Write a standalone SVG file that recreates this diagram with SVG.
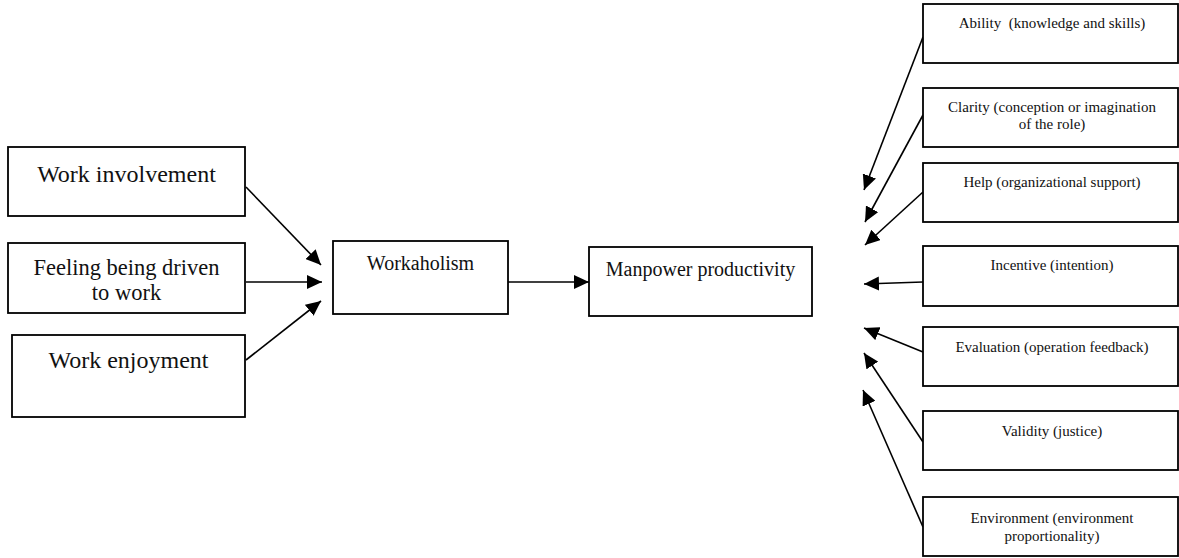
<svg xmlns="http://www.w3.org/2000/svg" width="1179" height="558" viewBox="0 0 1179 558">
<style>
.box{fill:#fff;stroke:#000;stroke-width:1.8}
.t{font-family:"Liberation Serif","Times New Roman",serif;fill:#111;text-anchor:middle}
.big{font-size:24px}
.mid{font-size:22.5px}
.md{font-size:20px}
.sm{font-size:15px}
.c{stroke:#000;stroke-width:1.6;fill:none;marker-end:url(#ah)}
</style>
<defs>
<marker id="ah" markerUnits="userSpaceOnUse" markerWidth="15" markerHeight="14" refX="15" refY="7" orient="auto">
<path d="M0,0 L15,7 L0,14 z" fill="#000"/>
</marker>
</defs>
<rect width="1179" height="558" fill="#fff"/>
<g id="connectors">
<line class="c" x1="246" y1="187" x2="321" y2="265"/>
<line class="c" x1="246" y1="282" x2="322" y2="282"/>
<line class="c" x1="246" y1="360" x2="321" y2="301"/>
<line class="c" x1="508" y1="282" x2="589" y2="282"/>
<line class="c" x1="923" y1="37" x2="864" y2="190"/>
<line class="c" x1="923" y1="115" x2="865" y2="222"/>
<line class="c" x1="923" y1="192" x2="865" y2="245"/>
<line class="c" x1="923" y1="282" x2="864" y2="284"/>
<line class="c" x1="923" y1="352" x2="864" y2="328"/>
<line class="c" x1="923" y1="442" x2="864" y2="353"/>
<line class="c" x1="923" y1="527" x2="863" y2="390"/>
</g>
<g id="work-involvement"><rect class="box" x="8" y="147" width="237" height="69"/><text class="t big" x="126.5" y="182">Work involvement</text></g>
<g id="feeling-driven"><rect class="box" x="8" y="243" width="237" height="70"/><text class="t mid" x="126.5" y="275">Feeling being driven</text><text class="t mid" x="126.5" y="300">to work</text></g>
<g id="work-enjoyment"><rect class="box" x="12" y="335" width="233" height="82"/><text class="t big" x="128.5" y="368">Work enjoyment</text></g>
<g id="workaholism"><rect class="box" x="333" y="241" width="175" height="73"/><text class="t md" x="420.5" y="270">Workaholism</text></g>
<g id="manpower"><rect class="box" x="589" y="247" width="223" height="69"/><text class="t md" x="700.5" y="276">Manpower productivity</text></g>
<g id="ability"><rect class="box" x="923" y="4" width="255" height="59"/><text class="t sm" x="1052" y="28" xml:space="preserve">Ability  (knowledge and skills)</text></g>
<g id="clarity"><rect class="box" x="923" y="88" width="255" height="59"/><text class="t sm" x="1052" y="112">Clarity (conception or imagination</text><text class="t sm" x="1052" y="129">of the role)</text></g>
<g id="help"><rect class="box" x="923" y="163" width="255" height="59"/><text class="t sm" x="1052" y="187">Help (organizational support)</text></g>
<g id="incentive"><rect class="box" x="923" y="246" width="255" height="60"/><text class="t sm" x="1052" y="270">Incentive (intention)</text></g>
<g id="evaluation"><rect class="box" x="923" y="327" width="255" height="59"/><text class="t sm" x="1052" y="352">Evaluation (operation feedback)</text></g>
<g id="validity"><rect class="box" x="923" y="411" width="255" height="59"/><text class="t sm" x="1052" y="436">Validity (justice)</text></g>
<g id="environment"><rect class="box" x="923" y="497" width="255" height="59"/><text class="t sm" x="1052" y="523">Environment (environment</text><text class="t sm" x="1052" y="541">proportionality)</text></g>
</svg>
